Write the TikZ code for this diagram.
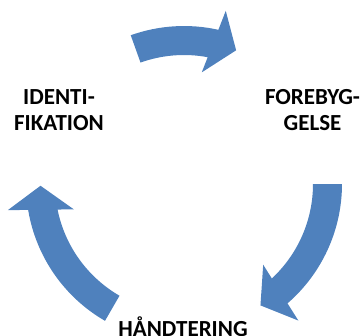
\documentclass[tikz,border=0pt]{standalone}
\usepackage{fontspec}
\setmainfont{Carlito}
\definecolor{arrowblue}{RGB}{79,129,189}
\tikzset{
  cyclearrow/.style={fill=arrowblue, draw=none},
  lbl/.style={font=\fontsize{23}{26.4}\selectfont\bfseries, align=center, inner sep=0pt, text=black}
}
% canonical arrow: tip at angle 0 on radius 143.5, travelling clockwise; #1 = span in degrees
\newcommand{\cyclearrowpath}[1]{%
  (110.5,24) -- (143.5,0) -- (176.5,24) -- (8.73:158)
  arc[start angle=8.73, end angle=#1, radius=158]
  -- (#1:129)
  arc[start angle=#1, end angle=10.72, radius=129] -- cycle}
\begin{document}
\begin{tikzpicture}[x=1pt,y=1pt]
  \useasboundingbox (-184,-151) rectangle (179,184);
  \coordinate (c) at (0,0);
  \begin{scope}[rotate=68.7]
    \fill[cyclearrow] \cyclearrowpath{41};
  \end{scope}
  \begin{scope}[rotate=-57.8]
    \fill[cyclearrow] \cyclearrowpath{57.8};
  \end{scope}
  \begin{scope}[rotate=180.7]
    \fill[cyclearrow] \cyclearrowpath{59.3};
  \end{scope}
  \node[lbl, anchor=north] (ident) at (-125,95) {IDENTI-\\FIKATION};
  \node[lbl, anchor=north] (forebyg) at (128.5,95) {FOREBYG-\\GELSE};
  \node[lbl, anchor=base] (haand) at (-1,-152) {HÅNDTERING};
\end{tikzpicture}
\end{document}
